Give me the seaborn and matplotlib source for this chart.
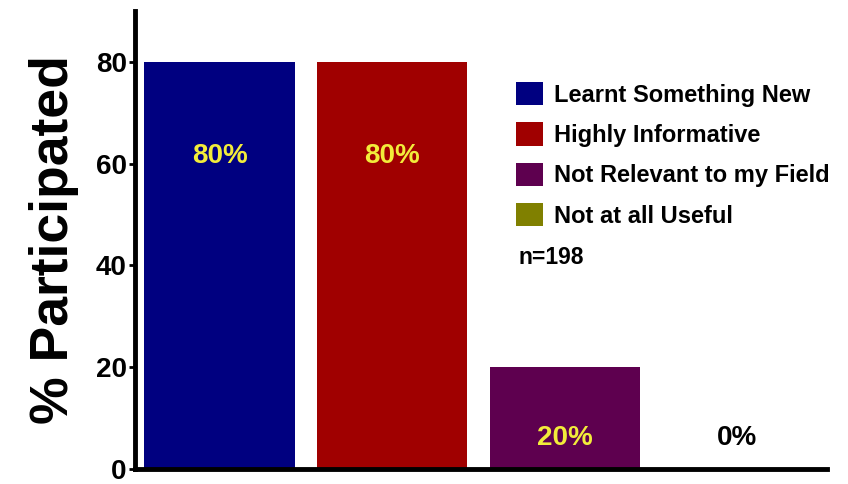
import numpy as np
import pandas as pd
import matplotlib
matplotlib.use('Agg')
import matplotlib.pyplot as plt
import seaborn as sns

sns.set_style('ticks')
plt.rcParams['font.family'] = ['Liberation Sans', 'DejaVu Sans']
plt.rcParams['font.weight'] = 'bold'
plt.rcParams['text.color'] = 'black'
plt.rcParams['axes.labelcolor'] = 'black'
plt.rcParams['ytick.color'] = 'black'

# data
categories = ['Learnt Something New', 'Highly Informative',
              'Not Relevant to my Field', 'Not at all Useful']
percent = [80, 80, 20, 0]
bar_text = ['80%', '80%', '20%', '0%']
n_label = 'n=198'

colors = ['#000080', '#A00000', '#5E004F', '#808000']
text_colors = ['#F2EC3A', '#F2EC3A', '#F2EC3A', '#000000']
text_y = [61.5, 61.5, 6.0, 6.0]

df = pd.DataFrame({'cat': categories, 'pct': percent})

fig = plt.figure(figsize=(8.48, 4.84), dpi=100)
ax = fig.add_axes([135 / 848, 15 / 484, (827 - 135) / 848, (469 - 11) / 484])

sns.barplot(data=df, x='cat', y='pct', hue='cat', palette=colors,
            saturation=1, width=0.87, linewidth=0, legend=False, ax=ax)

ax.set_ylim(0, 90)
ax.set_xlim(-0.49, 3.52)
ax.set_yticks([0, 20, 40, 60, 80])
ax.set_xticks([])
ax.set_xlabel('')
ax.set_ylabel('% Participated', fontsize=38.5, fontweight='bold', labelpad=12)
ax.tick_params(axis='y', labelsize=20, width=2, length=4, pad=2)
for lab in ax.get_yticklabels():
    lab.set_fontweight('bold')

sns.despine(ax=ax)
ax.spines['left'].set_linewidth(3.5)
ax.spines['bottom'].set_linewidth(3.5)
ax.spines['left'].set_color('black')
ax.spines['bottom'].set_color('black')

for i, (t, c, y) in enumerate(zip(bar_text, text_colors, text_y)):
    ax.text(i, y, t, ha='center', va='center', fontsize=20,
            fontweight='bold', color=c)

handles = ax.patches[:4]
fig.legend(handles, categories, loc='upper left',
           bbox_to_anchor=(516 / 848, (484 - 82) / 484),
           frameon=False, prop={'weight': 'bold', 'size': 17},
           handlelength=1.15, handleheight=1.15, handletextpad=0.45,
           labelspacing=0.66, borderpad=0, borderaxespad=0)

fig.text(518 / 848, (484 - 258) / 484, n_label, fontsize=16.5,
         fontweight='bold', va='center', ha='left')

fig.savefig('out.png', dpi=100)
